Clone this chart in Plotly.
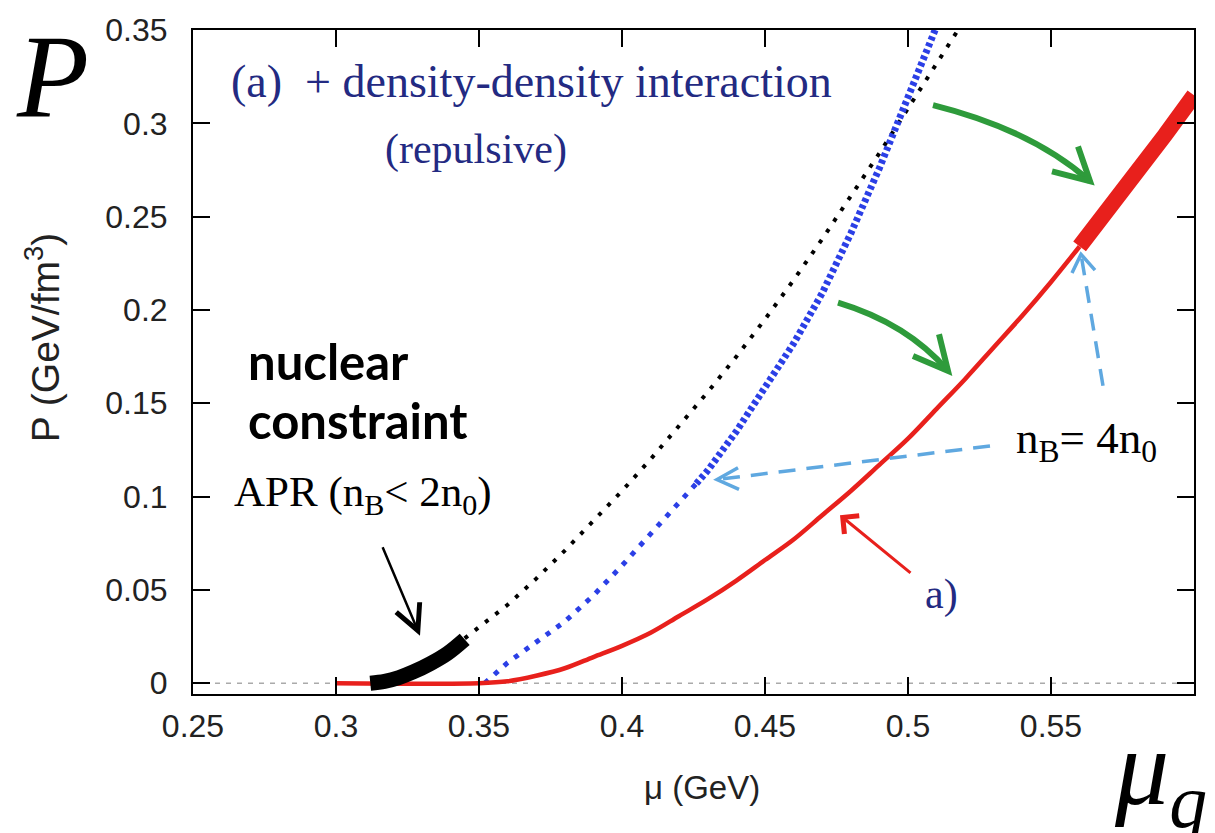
import plotly.graph_objects as go

# ---------------- data ----------------
mu_red = [0.30, 0.35, 0.36, 0.37, 0.38, 0.39, 0.40, 0.41, 0.42, 0.43, 0.44, 0.45,
          0.46, 0.47, 0.48, 0.49, 0.50, 0.51, 0.52, 0.53, 0.54, 0.55, 0.56]
P_red = [0.000, 0.000, 0.001, 0.004, 0.008, 0.014, 0.020, 0.027, 0.036, 0.045, 0.055, 0.066,
         0.077, 0.090, 0.103, 0.117, 0.131, 0.147, 0.163, 0.180, 0.197, 0.215, 0.234]
mu_red_hi = [0.56, 0.57, 0.58, 0.59, 0.60]
P_red_hi = [0.234, 0.253, 0.273, 0.294, 0.315]

mu_blue_lo = [0.352, 0.36, 0.37, 0.38, 0.39, 0.40, 0.41, 0.42, 0.426]
P_blue_lo = [0.000, 0.011, 0.022, 0.033, 0.047, 0.063, 0.080, 0.097, 0.107]
mu_blue_hi = [0.426, 0.43, 0.44, 0.45, 0.46, 0.47, 0.48, 0.49, 0.50, 0.51]
P_blue_hi = [0.107, 0.114, 0.135, 0.158, 0.182, 0.209, 0.241, 0.276, 0.313, 0.352]

mu_black = [0.345, 0.35, 0.36, 0.37, 0.38, 0.39, 0.40, 0.41, 0.42, 0.43, 0.44, 0.45,
            0.46, 0.47, 0.48, 0.49, 0.50, 0.51, 0.52]
P_black = [0.024, 0.030, 0.042, 0.056, 0.071, 0.087, 0.103, 0.120, 0.138, 0.156, 0.175, 0.195,
           0.216, 0.238, 0.261, 0.284, 0.308, 0.332, 0.356]

mu_apr = [0.312, 0.317, 0.322, 0.327, 0.333, 0.339, 0.345]
P_apr = [0.000, 0.001, 0.003, 0.006, 0.0105, 0.016, 0.0235]

x_ticks = [0.25, 0.3, 0.35, 0.4, 0.45, 0.5, 0.55]
x_ticktext = ["0.25", "0.3", "0.35", "0.4", "0.45", "0.5", "0.55"]
y_ticks = [0, 0.05, 0.1, 0.15, 0.2, 0.25, 0.3, 0.35]
y_ticktext = ["0", "0.05", "0.1", "0.15", "0.2", "0.25", "0.3", "0.35"]

# ---------------- layout helpers (pixel -> paper) ----------------
W, H = 1215, 833
L, R, T, B = 193, 1194, 22, 694


def px(x):
    return (x - L) / (R - L)


def py(y):
    return (B - y) / (B - T)


RED = "#e8201c"
BLUE = "#2b3fe6"
NAVY = "#232a82"
GREEN = "#2e9b3b"
LBLUE = "#5fa8e0"
SERIF = "Liberation Serif"
SANS = "Liberation Sans"

fig = go.Figure()

fig.add_trace(go.Scatter(x=mu_black, y=P_black, mode="lines",
                         line=dict(color="black", width=4, dash="4px,9px"), hoverinfo="skip"))
fig.add_trace(go.Scatter(x=mu_blue_lo, y=P_blue_lo, mode="lines",
                         line=dict(color=BLUE, width=5, dash="5px,8px"), hoverinfo="skip"))
fig.add_trace(go.Scatter(x=mu_blue_hi, y=P_blue_hi, mode="lines",
                         line=dict(color=BLUE, width=7, dash="4px,3px"), hoverinfo="skip"))
fig.add_trace(go.Scatter(x=mu_red, y=P_red, mode="lines", line_shape="spline",
                         line=dict(color=RED, width=4.5), hoverinfo="skip"))
fig.add_trace(go.Scatter(x=mu_red_hi, y=P_red_hi, mode="lines",
                         line=dict(color=RED, width=16), hoverinfo="skip"))
fig.add_trace(go.Scatter(x=mu_apr, y=P_apr, mode="lines", line_shape="spline",
                         line=dict(color="black", width=15), hoverinfo="skip"))

shapes = []
# dashed zero reference line
shapes.append(dict(type="line", xref="paper", yref="y", x0=0, x1=1, y0=0, y1=0,
                   line=dict(color="#aaaaaa", width=1.5, dash="5px,6px"), layer="below"))


def path_q(p0, c, p1):
    return "M{},{} Q{},{} {},{}".format(px(p0[0]), py(p0[1]), px(c[0]), py(c[1]),
                                        px(p1[0]), py(p1[1]))


def path_v(a, tip, b):
    return "M{},{} L{},{} L{},{}".format(px(a[0]), py(a[1]), px(tip[0]), py(tip[1]),
                                         px(b[0]), py(b[1]))


# green curved arrows
for p0, c, tip, b1, b2 in [((933, 98), (1032, 123), (1090, 175), (1052, 165), (1078, 140)),
                           ((838, 298), (907, 319), (948, 367), (913, 352), (939, 330))]:
    shapes.append(dict(type="path", xref="paper", yref="paper", path=path_q(p0, c, tip),
                       line=dict(color=GREEN, width=6)))
    shapes.append(dict(type="path", xref="paper", yref="paper", path=path_v(b1, tip, b2),
                       line=dict(color=GREEN, width=6)))

# light-blue dashed arrows from n_B = 4 n_0
for tail, tip, b1, b2 in [((990, 443), (717, 477), (738, 465), (739, 487)),
                          ((1103, 382), (1081, 249), (1072, 268), (1095, 265))]:
    shapes.append(dict(type="line", xref="paper", yref="paper",
                       x0=px(tail[0]), y0=py(tail[1]), x1=px(tip[0]), y1=py(tip[1]),
                       line=dict(color=LBLUE, width=3.5, dash="17px,11px")))
    shapes.append(dict(type="path", xref="paper", yref="paper", path=path_v(b1, tip, b2),
                       line=dict(color=LBLUE, width=3.5)))

annotations = []


def text(t, x, y, size, color="black", family=SERIF, xanchor="left", **kw):
    annotations.append(dict(text=t, x=px(x), y=py(y), xref="paper", yref="paper",
                            xanchor=xanchor, yanchor="middle", showarrow=False,
                            font=dict(size=size, color=color, family=family), **kw))


text("<i>P</i>", 52, 70, 118, xanchor="center")
text("<i>μ</i><sub><i>q</i></sub>", 1112, 776, 108)
text("P (GeV/fm<sup>3</sup>)", 42, 333, 39, color="#222", family=SANS, xanchor="center",
     textangle=-90)
text("μ (GeV)", 702, 789, 33, color="#222", family=SANS, xanchor="center")
text("(a)  + density-density interaction", 229, 74, 46, color=NAVY)
text("(repulsive)", 383, 143, 42, color=NAVY)
text("<b>nuclear</b>", 246, 357, 49, family="Lato")
text("<b>constraint</b>", 246, 417, 49, family="Lato")
text("APR (n<sub>B</sub>&lt; 2n<sub>0</sub>)", 232, 493, 43)
text("n<sub>B</sub>= 4n<sub>0</sub>", 1014, 438, 45)
text("a)", 923, 593, 42, color=NAVY)

# straight arrows
annotations.append(dict(x=px(420), y=py(635), xref="paper", yref="paper", text="",
                        showarrow=True, ax=382 - 420, ay=545 - 635, axref="pixel", ayref="pixel",
                        arrowhead=5, arrowsize=2, arrowwidth=2.5, arrowcolor="black"))
annotations.append(dict(x=px(840), y=py(513), xref="paper", yref="paper", text="",
                        showarrow=True, ax=912 - 840, ay=572 - 513, axref="pixel", ayref="pixel",
                        arrowhead=4, arrowsize=1.5, arrowwidth=3, arrowcolor=RED))

axis_common = dict(showgrid=False, zeroline=False, showline=True, linecolor="black", linewidth=2,
                   mirror="ticks", ticks="inside", ticklen=17, tickwidth=2, tickcolor="black",
                   tickfont=dict(family=SANS, size=32, color="#222"))

fig.update_layout(
    width=W, height=H,
    margin=dict(l=L, r=W - R, t=T, b=H - B),
    paper_bgcolor="white", plot_bgcolor="white",
    showlegend=False,
    shapes=shapes,
    annotations=annotations,
    xaxis=dict(range=[0.25, 0.6], tickvals=x_ticks, ticktext=x_ticktext,
               ticklabelstandoff=3, **axis_common),
    yaxis=dict(range=[-0.0058, 0.35], tickvals=y_ticks, ticktext=y_ticktext,
               ticklabelstandoff=17, **axis_common),
)

fig.write_html("out.html")
